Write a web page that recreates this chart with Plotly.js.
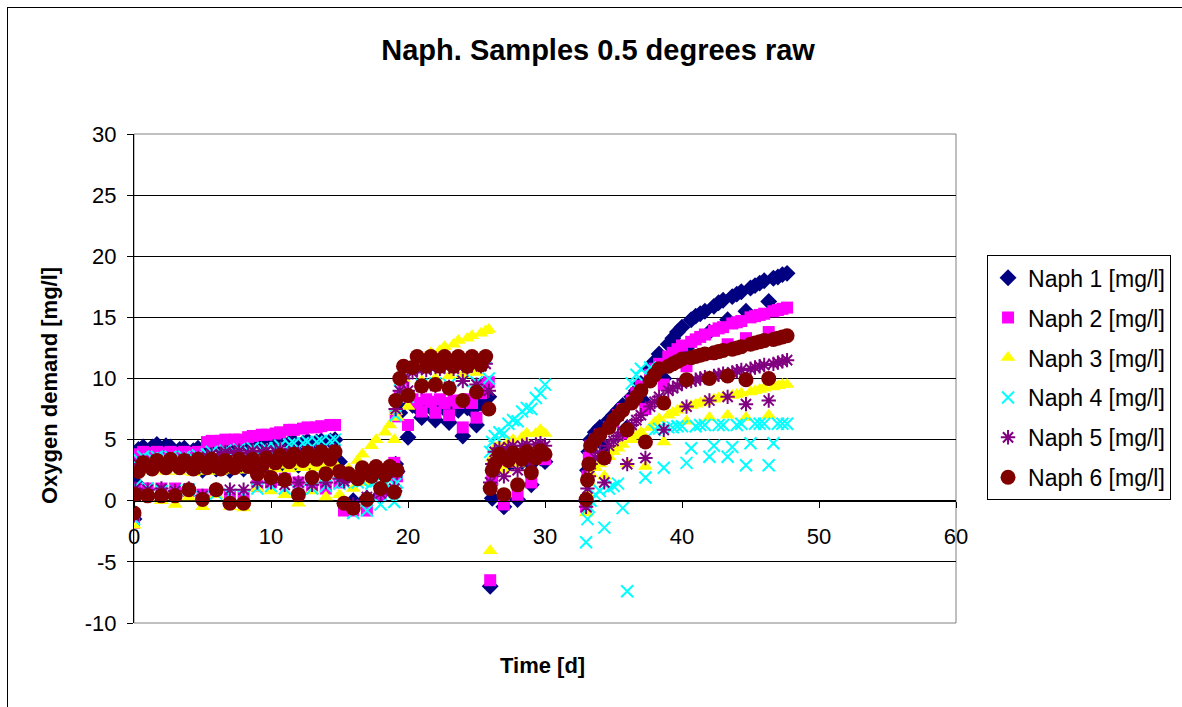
<!DOCTYPE html>
<html>
<head>
<meta charset="utf-8">
<script src="https://cdn.plot.ly/plotly-3.0.1.min.js"></script>
<style>
  html, body { margin: 0; padding: 0; background: #fff; }
  #wrap { position: relative; width: 1182px; height: 707px; overflow: hidden; }
  #chart { width: 1182px; height: 707px; }
  #frame { position: absolute; left: 7px; top: 7px; width: 1300px; height: 900px; border: 1px solid #000; pointer-events: none; }
</style>
</head>
<body>
<div id="wrap"><div id="chart"></div><div id="frame"></div></div>
<script>
// ---- time axis [d] (shared by all series) ----
const days = [
  0, 0.1, 0.33, 0.67, 1, 1.33, 1.67, 2, 2.33, 2.67, 3, 3.33, 3.67, 4, 4.33, 4.67, 5, 5.33, 5.67, 6, 6.33, 6.67, 7, 7.33, 7.67, 8, 8.33, 8.67, 9, 9.33, 9.67, 10, 10.33, 10.67, 11, 11.33, 11.67, 12, 12.33, 12.67, 13, 13.33, 13.67, 14, 14.33, 14.67, 15,
  15.33, 15.67, 16, 16.33, 16.67, 17, 17.33, 17.67, 18, 18.33, 18.67, 19, 19.2,
  19.1, 19.4, 19.67, 20, 20.33, 20.67, 21, 21.33, 21.67, 22, 22.33, 22.67, 23, 23.33, 23.67, 24, 24.33, 24.67, 25, 25.33, 25.67, 25.9,
  26,
  26.15, 26.33, 26.67, 27, 27.33, 27.67, 28, 28.33, 28.67, 29, 29.33, 29.67, 30,
  33, 33.1, 33.2, 33.33, 33.67, 34, 34.33, 34.67, 35, 35.33, 35.67, 36, 36.33, 36.67, 37, 37.33, 37.67, 38, 38.33, 38.67, 39, 39.33, 39.67, 40, 40.33, 40.67, 41, 41.33, 41.67, 42, 42.33, 42.67, 43, 43.33, 43.67, 44, 44.33, 44.67, 45, 45.33, 45.67, 46, 46.33, 46.67, 47, 47.33, 47.67
];

// ---- Oxygen demand [mg/l] per sample ----
const naph1 = [
  -1.5, 1.5, 4.2, 4.4, 3.0, 4.4, 4.6, 3.2, 4.5, 4.4, 3.0, 4.2, 4.3, 2.8, 4.1, 4.3, 2.5, 4.2, 4.4, 2.6, 4.3, 4.5, 2.5, 4.4, 4.6, 2.6, 4.5, 4.7, 2.7, 4.6, 4.7, 2.8, 4.6, 4.8, 2.8, 4.7, 4.8, 2.9, 4.7, 4.9, 2.9, 4.8, 4.9, 3.0, 4.9, 5.0, 3.2,
  1.8, 2.1, 0.0, 2.0, 2.2, 0.2, 2.1, 2.3, 0.5, 2.2, 2.4, 0.8, 2.4,
  3.0, 7.2, 8.0, 5.2, 7.8, 7.6, 6.8, 7.8, 7.6, 6.6, 7.7, 7.5, 6.4, 7.6, 7.4, 5.3, 7.6, 7.4, 6.2, 8.0, 8.5, 8.5,
  -7.0,
  0.2, 2.5, 2.8, -0.5, 3.0, 3.2, 0.1, 3.2, 3.4, 1.3, 3.4, 3.5, 3.2,
  0.0, 2.5, 4.0, 5.0, 5.6, 6.0, 4.5, 6.6, 7.0, 7.4, 7.8, 6.0, 8.5, 9.0, 9.6, 8.0, 10.8, 11.4, 12.0, 10.0, 12.8, 13.3, 13.8, 14.2, 12.5, 14.8, 15.1, 15.3, 15.5, 13.8, 15.9, 16.2, 16.4, 14.8, 16.7, 16.9, 17.1, 15.5, 17.4, 17.6, 17.8, 18.0, 16.3, 18.2, 18.3, 18.5, 18.6
];
const naph2 = [
  -1.8, 1.0, 3.8, 4.0, 1.0, 3.9, 4.0, 1.0, 3.9, 4.0, 1.0, 3.9, 4.0, 0.8, 3.9, 4.0, 0.5, 4.8, 4.9, 0.8, 4.9, 5.0, 0.3, 5.0, 5.0, 0.3, 5.2, 5.3, 1.2, 5.4, 5.4, 1.5, 5.5, 5.6, 1.8, 5.8, 5.8, 1.5, 5.9, 6.0, 1.2, 6.0, 6.1, 1.0, 6.2, 6.2, 1.5,
  -0.8, 2.0, -0.8, 2.0, 2.3, -0.8, 2.2, 2.5, 0.5, 2.4, 2.6, 3.1, 2.0,
  6.9, 8.5, 9.5, 6.2, 8.3, 8.0, 7.3, 8.3, 8.1, 7.2, 8.3, 8.0, 7.0, 8.2, 8.0, 6.0, 8.3, 8.0, 6.8, 8.8, 9.5, 9.7,
  -6.5,
  1.7, 2.8, 3.0, -0.3, 3.2, 3.4, 0.5, 3.4, 3.5, 1.5, 3.5, 3.6, 3.4,
  -0.5, 2.0, 3.5, 4.5, 5.0, 5.4, 3.5, 6.0, 6.5, 7.0, 7.5, 5.5, 8.2, 8.8, 9.4, 7.5, 10.3, 10.8, 11.2, 9.5, 11.8, 12.1, 12.4, 12.7, 11.0, 13.0, 13.2, 13.4, 13.6, 12.0, 13.9, 14.1, 14.2, 12.8, 14.5, 14.6, 14.7, 13.3, 15.0, 15.1, 15.2, 15.3, 13.8, 15.5, 15.6, 15.7, 15.8
];
const naph3 = [
  -2.0, 0.5, 2.3, 2.6, 0.2, 2.5, 2.7, 0.0, 2.4, 2.7, -0.3, 2.4, 2.6, 0.3, 2.3, 2.6, -0.5, 2.4, 2.7, 0.5, 2.4, 2.7, -0.5, 2.5, 2.8, -0.6, 2.5, 2.8, 1.0, 2.6, 2.8, 0.8, 2.6, 2.9, 0.5, 2.6, 2.9, -0.2, 2.7, 2.9, 0.8, 2.7, 3.0, 0.3, 2.8, 3.0, 0.5,
  2.0, 2.6, 1.0, 3.3, 3.8, 1.5, 4.5, 5.0, 2.5, 5.6, 6.2, 5.0, 6.8,
  7.3, 8.5, 10.0, 7.7, 11.0, 11.4, 9.8, 11.8, 12.1, 10.0, 12.3, 12.6, 10.2, 12.8, 13.1, 10.3, 13.3, 13.5, 10.5, 13.7, 13.9, 14.0,
  -4.1,
  3.5, 4.3, 4.6, 2.5, 4.8, 5.0, 3.0, 5.2, 5.5, 3.5, 5.5, 5.8, 5.5,
  -1.0, 0.5, 1.5, 2.2, 2.7, 3.0, 2.0, 3.6, 4.0, 4.3, 4.6, 3.0, 5.0, 5.3, 5.6, 2.8, 6.0, 6.4, 6.7, 4.8, 7.0, 7.2, 7.4, 7.6, 6.5, 7.8, 7.9, 8.0, 8.1, 6.8, 8.3, 8.4, 8.5, 7.0, 8.6, 8.7, 8.8, 6.8, 8.9, 9.0, 9.1, 9.2, 7.0, 9.3, 9.4, 9.5, 9.5
];
const naph4 = [
  -1.5, 1.2, 3.4, 3.6, 1.0, 3.5, 3.6, 0.8, 3.5, 3.6, 0.8, 3.5, 3.6, 0.9, 3.5, 3.7, 0.3, 3.8, 4.0, 0.6, 3.9, 4.1, 0.5, 4.0, 4.2, 0.4, 4.1, 4.3, 1.0, 4.2, 4.3, 1.2, 4.3, 4.5, 1.0, 4.6, 4.7, 0.8, 4.7, 4.8, 1.0, 4.8, 4.9, 1.2, 4.9, 5.0, 1.4,
  1.5, 1.8, -1.0, 1.5, 1.6, -0.8, 1.4, 1.6, -0.3, 1.5, 1.7, -0.1, 1.5,
  7.0, 9.0, 10.5, 8.5, 11.0, 11.2, 9.5, 11.2, 11.3, 9.6, 11.3, 11.4, 9.5, 11.3, 11.5, 9.8, 11.4, 11.6, 9.7, 11.5, 11.7, 10.0,
  4.0,
  4.8, 5.3, 5.6, 5.5, 6.3, 6.6, 6.5, 7.3, 7.6, 7.5, 8.4, 8.8, 9.5,
  -3.4, -1.5, -0.5, 0.0, 0.5, 0.8, -2.2, 1.0, 1.2, 1.4, -0.6, -7.4, 9.6, 10.3, 10.8, 1.9, 10.9, 5.8, 5.9, 2.7, 6.0, 6.0, 6.1, 6.1, 3.1, 4.3, 6.1, 6.2, 6.2, 3.6, 4.5, 6.2, 6.2, 3.6, 4.4, 6.2, 6.3, 2.9, 4.7, 6.3, 6.3, 6.3, 2.9, 4.7, 6.3, 6.3, 6.3
];
const naph5 = [
  -1.2, 1.0, 3.0, 3.2, 0.9, 3.1, 3.3, 1.0, 3.2, 3.3, 0.8, 3.2, 3.4, 1.0, 3.3, 3.5, 0.4, 3.6, 3.8, 0.9, 3.8, 4.0, 0.9, 3.9, 4.1, 0.9, 3.9, 4.1, 1.5, 4.0, 4.1, 1.5, 4.0, 4.2, 1.3, 3.9, 4.0, 1.5, 3.9, 4.0, 1.3, 4.0, 4.1, 1.5, 4.0, 4.1, 1.8,
  1.6, 2.0, -0.3, 1.9, 2.2, 0.3, 2.0, 2.3, 0.6, 2.1, 2.4, 1.0, 2.3,
  7.5, 9.0, 10.0, 9.0, 10.5, 10.8, 9.3, 10.7, 10.9, 9.4, 10.8, 11.0, 9.3, 10.8, 11.0, 9.8, 10.9, 11.1, 9.5, 11.0, 11.2, 9.0,
  1.5,
  3.0, 4.0, 4.3, 2.0, 4.4, 4.5, 2.5, 4.5, 4.6, 3.0, 4.6, 4.7, 4.5,
  -0.5, 1.0, 2.0, 3.0, 3.5, 3.9, 1.5, 4.5, 4.9, 5.3, 5.6, 3.0, 6.2, 6.6, 7.0, 3.5, 7.7, 8.1, 8.5, 5.8, 9.0, 9.2, 9.4, 9.6, 7.7, 9.8, 9.9, 10.0, 10.1, 8.2, 10.2, 10.3, 10.4, 8.5, 10.5, 10.6, 10.7, 7.9, 10.8, 10.9, 11.0, 11.1, 8.2, 11.2, 11.3, 11.4, 11.5
];
const naph6 = [
  -1.0, 0.5, 2.4, 3.1, 0.4, 2.6, 3.3, 0.4, 2.7, 3.4, 0.4, 2.7, 3.3, 0.9, 2.6, 3.4, 0.1, 2.7, 3.4, 0.9, 2.6, 3.3, -0.2, 2.7, 3.4, -0.2, 2.8, 3.4, 2.2, 2.8, 3.5, 1.9, 3.1, 3.7, 1.7, 3.2, 3.8, 0.5, 3.3, 3.9, 1.9, 3.4, 4.0, 2.2, 3.4, 4.0, 2.4,
  -0.2, 2.2, -0.6, 1.8, 2.7, 0.1, 2.0, 2.8, 1.0, 2.1, 2.8, 0.7, 2.5,
  8.2, 10.0, 11.0, 8.6, 10.9, 11.8, 9.4, 11.0, 11.8, 9.5, 11.0, 11.8, 9.2, 11.0, 11.8, 8.2, 11.0, 11.8, 8.9, 11.1, 11.8, 7.5,
  1.0,
  2.5, 3.0, 3.8, 0.5, 3.3, 3.9, 1.3, 3.4, 4.0, 2.3, 3.5, 4.1, 3.8,
  0.1, 1.7, 3.0, 4.5, 5.0, 5.4, 3.5, 6.0, 6.6, 7.0, 7.4, 5.8, 8.0, 8.5, 9.0, 4.8, 9.8, 10.3, 10.8, 8.0, 11.0, 11.2, 11.4, 11.6, 9.9, 11.7, 11.8, 11.9, 12.0, 10.0, 12.1, 12.2, 12.3, 10.2, 12.4, 12.5, 12.6, 9.9, 12.8, 12.9, 13.0, 13.1, 10.0, 13.2, 13.3, 13.4, 13.5
];

const seriesNames = ['Naph 1 [mg/l]', 'Naph 2 [mg/l]', 'Naph 3 [mg/l]', 'Naph 4 [mg/l]', 'Naph 5 [mg/l]', 'Naph 6 [mg/l]'];
const xTicks = [0, 10, 20, 30, 40, 50, 60];
const yTicks = [-10, -5, 0, 5, 10, 15, 20, 25, 30];

const seriesValues = [naph1, naph2, naph3, naph4, naph5, naph6];
const styles = [
  {symbol: 'diamond', size: 13, color: '#000080', lw: 0},
  {symbol: 'square', size: 12, color: '#FF00FF', lw: 0},
  {symbol: 'triangle-up', size: 13, color: '#FFFF00', lw: 0},
  {symbol: 'x-thin-open', size: 12, color: '#00FFFF', lw: 2},
  {symbol: 'asterisk-open', size: 12, color: '#800080', lw: 2},
  {symbol: 'circle', size: 15, color: '#800000', lw: 0}
];
const FONT = 'Arial, "Liberation Sans", sans-serif';

const traces = seriesValues.map((vals, i) => ({
  type: 'scatter', mode: 'markers', name: seriesNames[i], legendgroup: 'g' + i,
  x: days, y: vals,
  marker: {symbol: styles[i].symbol, size: styles[i].size, color: styles[i].color,
           line: {width: styles[i].lw, color: styles[i].color}},
  hoverinfo: 'x+y+name'
}));

const annotations = [
  {text: '<b>Oxygen demand [mg/l]</b>', xref: 'paper', yref: 'paper', x: -0.102, y: 0.485,
   xanchor: 'center', yanchor: 'middle',
   textangle: -90, showarrow: false, font: {size: 22, family: FONT, color: '#000'}},
  {text: '<b>Time [d]</b>', xref: 'paper', yref: 'paper', x: 0.497, y: -0.0859,
   xanchor: 'center', yanchor: 'middle',
   showarrow: false, font: {size: 22, family: FONT, color: '#000'}}
];
seriesValues.forEach((v, i) => {
  if (v.length !== days.length) {
    annotations.push({text: 'LEN ' + (i + 1) + ': ' + v.length + ' vs ' + days.length, xref: 'paper', yref: 'paper',
      x: 0.5, y: 0.95 - i * 0.05, showarrow: false, font: {size: 16, color: 'red'}});
  }
});

const layout = {
  width: 1182, height: 707,
  margin: {l: 134, r: 225, t: 134, b: 84},
  paper_bgcolor: '#fff', plot_bgcolor: '#fff',
  font: {family: FONT, color: '#000', size: 22},
  title: {text: '<b>Naph. Samples 0.5 degrees raw</b>', font: {size: 29, family: FONT, color: '#000'},
          x: 0.506, xanchor: 'center', xref: 'container', y: 0.929, yanchor: 'middle', yref: 'container'},
  xaxis: {range: [0, 60], tickvals: xTicks, ticktext: xTicks.map(String), anchor: 'free', position: 0.25,
          showline: true, linecolor: '#000', linewidth: 1, ticks: 'outside', ticklen: 6, tickcolor: '#000',
          showgrid: false, zeroline: false, tickfont: {size: 22, family: FONT}, ticklabelstandoff: 10, fixedrange: true},
  yaxis: {range: [-10, 30], tickvals: yTicks, ticktext: yTicks.map(String),
          showline: true, linecolor: '#000', linewidth: 1, ticks: 'outside', ticklen: 6, tickcolor: '#000',
          showgrid: true, gridcolor: '#000', gridwidth: 1, zeroline: false,
          tickfont: {size: 22, family: FONT}, ticklabelstandoff: 6, fixedrange: true},
  shapes: [
    {type: 'rect', xref: 'paper', yref: 'paper', x0: 0, x1: 1, y0: 0, y1: 1, line: {color: '#808080', width: 1}, layer: 'below'}
  ],
  annotations: annotations,
  showlegend: true,
  legend: {x: 1.0365, xanchor: 'left', y: 0.752, yanchor: 'top', bordercolor: '#000', borderwidth: 1,
           bgcolor: '#fff', font: {size: 23, family: FONT, color: '#000'}, traceorder: 'grouped', tracegroupgap: 7}
};

Plotly.newPlot('chart', traces, layout, {displayModeBar: false, staticPlot: false});
</script>
</body>
</html>
